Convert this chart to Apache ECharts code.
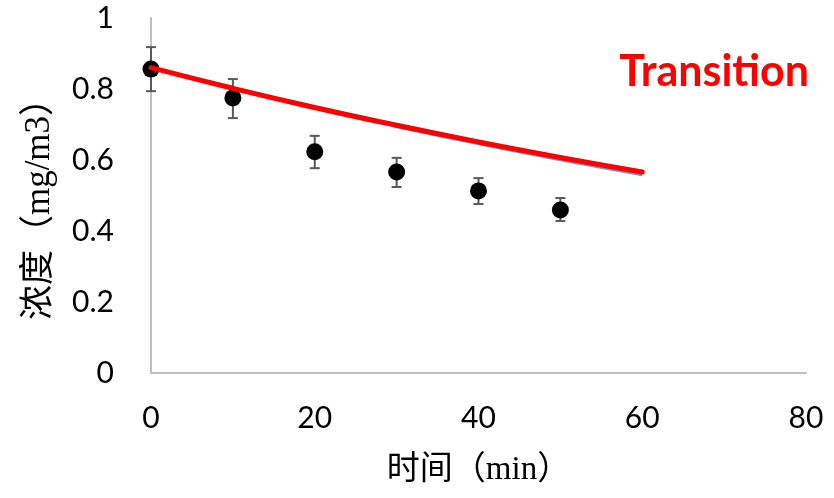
<!DOCTYPE html>
<html>
<head>
<meta charset="utf-8">
<script src="https://cdn.jsdelivr.net/npm/echarts@6/dist/echarts.min.js"></script>
<style>
  html, body { margin: 0; padding: 0; background: #fff; }
  #chart { width: 834px; height: 498px; }
</style>
</head>
<body>
<div id="chart"></div>
<script>
// measured points
const timeMin = [0, 10, 20, 30, 40, 50];
const measured = [0.856, 0.775, 0.623, 0.566, 0.513, 0.459];
const errLow = [0.794, 0.718, 0.577, 0.524, 0.476, 0.428];
const errHigh = [0.918, 0.828, 0.668, 0.606, 0.549, 0.493];

// model curves
const modelTime = [0, 10, 20, 30, 40, 50, 60];
const transitionRed = [0.86, 0.802, 0.748, 0.698, 0.651, 0.607, 0.566];
const transitionBlue = [0.86, 0.799, 0.744, 0.693, 0.645, 0.6, 0.558];

const xTicks = [0, 20, 40, 60, 80];
const yTicks = [0, 0.2, 0.4, 0.6, 0.8, 1];

const labelFont = "Lato, 'Open Sans', sans-serif";
const nameFont = "'Liberation Serif', 'Noto Sans CJK SC', serif";

const chart = echarts.init(document.getElementById("chart"));

const errData = timeMin.map((t, i) => [t, errLow[i], errHigh[i]]);

const option = {
  animation: false,
  title: {
    text: "Transition",
    right: 20,
    top: 46,
    textStyle: {
      color: "#ff0000",
      fontSize: 43,
      fontWeight: "bold",
      fontFamily: labelFont
    }
  },
  grid: { left: 151, right: 28, top: 18, bottom: 125 },
  xAxis: {
    type: "value",
    min: xTicks[0],
    max: xTicks[xTicks.length - 1],
    interval: 20,
    name: "时间（min）",
    nameLocation: "middle",
    nameGap: 81,
    nameTextStyle: { fontSize: 33, color: "#000", fontFamily: nameFont },
    axisLine: { lineStyle: { color: "#bfbfbf", width: 2 } },
    axisTick: { show: false },
    splitLine: { show: false },
    axisLabel: { fontSize: 30, color: "#000", margin: 30, fontFamily: labelFont }
  },
  yAxis: {
    type: "value",
    min: yTicks[0],
    max: yTicks[yTicks.length - 1],
    interval: 0.2,
    name: "浓度（mg/m3）",
    nameLocation: "middle",
    nameGap: 94,
    nameRotate: 90,
    nameTextStyle: { fontSize: 35, color: "#000", fontFamily: nameFont, padding: [0, 0, 0, -10] },
    axisLine: { show: true, lineStyle: { color: "#bfbfbf", width: 2 } },
    axisTick: { show: false },
    splitLine: { show: false },
    axisLabel: { fontSize: 30, color: "#000", margin: 37, fontFamily: labelFont }
  },
  series: [
    {
      type: "custom",
      z: 2,
      data: errData,
      renderItem: function (params, api) {
        const lo = api.coord([api.value(0), api.value(1)]);
        const hi = api.coord([api.value(0), api.value(2)]);
        const cap = 5;
        const style = { stroke: "#595959", lineWidth: 2 };
        return {
          type: "group",
          children: [
            { type: "line", shape: { x1: lo[0], y1: lo[1], x2: hi[0], y2: hi[1] }, style: style },
            { type: "line", shape: { x1: lo[0] - cap, y1: lo[1], x2: lo[0] + cap, y2: lo[1] }, style: style },
            { type: "line", shape: { x1: hi[0] - cap, y1: hi[1], x2: hi[0] + cap, y2: hi[1] }, style: style }
          ]
        };
      }
    },
    {
      type: "scatter",
      z: 3,
      symbol: "circle",
      symbolSize: 17,
      itemStyle: { color: "#000", opacity: 1 },
      data: timeMin.map((t, i) => [t, measured[i]])
    },
    {
      type: "line",
      z: 4,
      smooth: true,
      showSymbol: false,
      lineStyle: { color: "#5b9bd5", width: 2.5 },
      data: modelTime.map((t, i) => [t, transitionBlue[i]])
    },
    {
      type: "line",
      z: 5,
      smooth: true,
      showSymbol: false,
      lineStyle: { color: "#ff0000", width: 5, cap: "round" },
      data: modelTime.map((t, i) => [t, transitionRed[i]])
    }
  ]
};

chart.setOption(option);
</script>
</body>
</html>
